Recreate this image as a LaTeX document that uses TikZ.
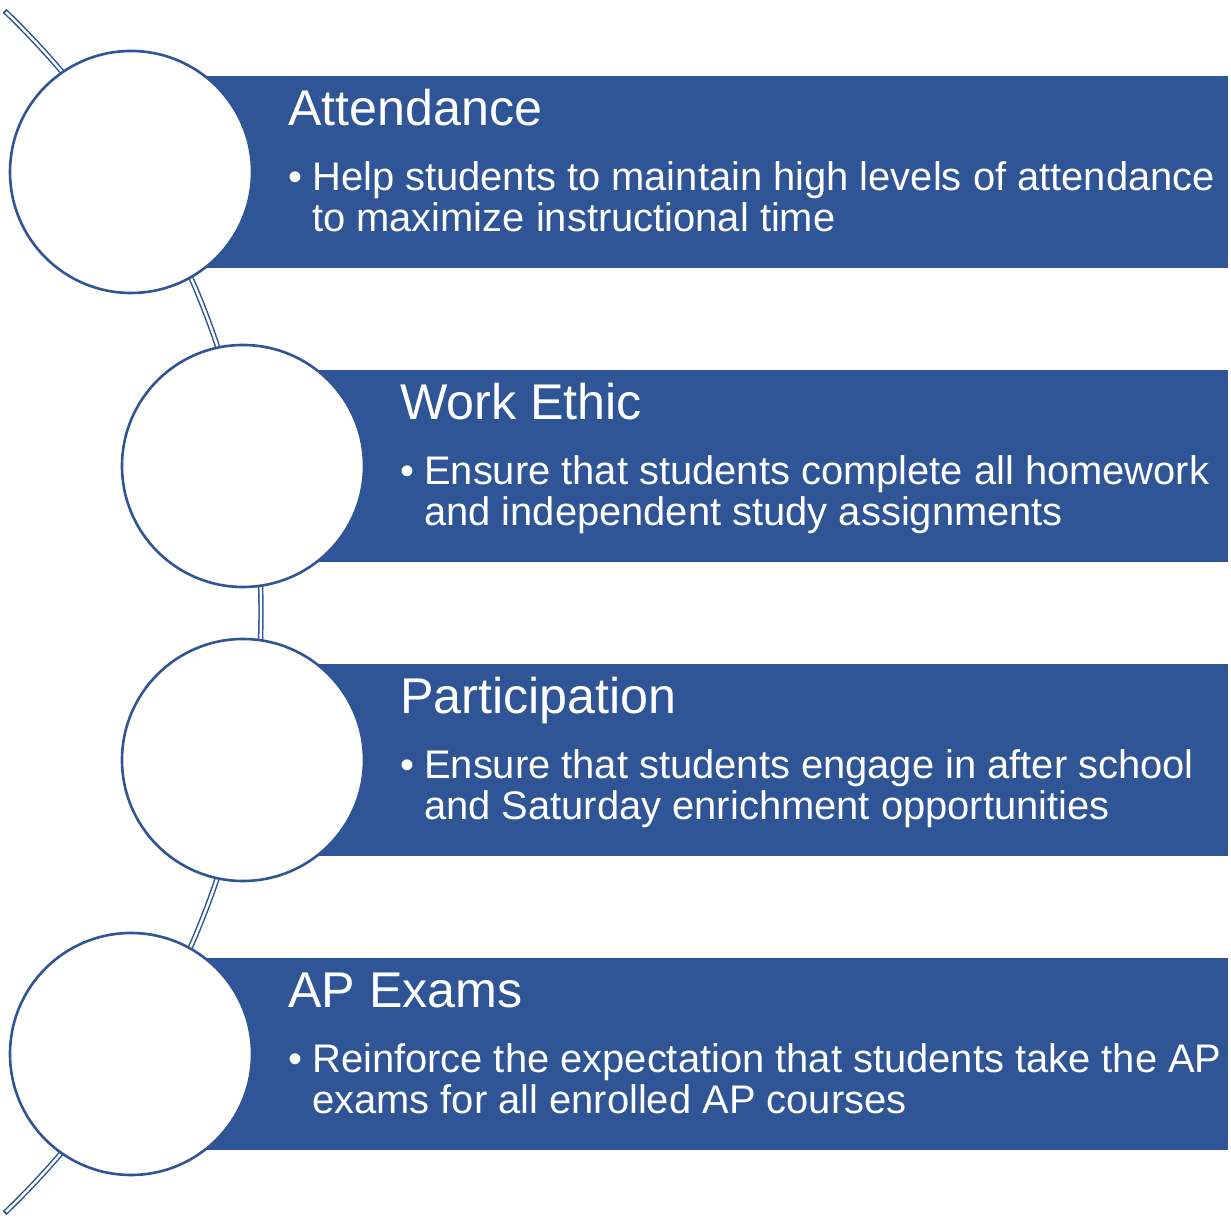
\documentclass[tikz,border=0pt]{standalone}
\usepackage{fontspec}
\setmainfont{Liberation Sans}
\definecolor{sblue}{RGB}{47,85,151}
\begin{document}
\begin{tikzpicture}[x=1pt,y=1pt,
 bar/.style={fill=sblue, draw=none},
 disc/.style={circle, fill=white, draw=sblue, line width=2.6pt, minimum size=242pt, inner sep=0pt},
 ttl/.style={anchor=base west, inner sep=0pt, text=white, font=\fontsize{50.2}{60}\selectfont},
 body/.style={anchor=base west, inner sep=0pt, text=white, font=\fontsize{39.9}{41}\selectfont}]
\useasboundingbox (0,0) rectangle (1231,1220);
% bars
\fill[bar] (131,952) rectangle (1228,1144);
\fill[bar] (243,658) rectangle (1228,850);
\fill[bar] (243,364) rectangle (1228,556);
\fill[bar] (131,70) rectangle (1228,262);
% connecting arc (double line with closed ends)
\draw[sblue, line width=5.4pt] (-572,608) ++(-46.2:833) arc[start angle=-46.2, end angle=46.2, radius=833];
\draw[white, line width=2.4pt] (-572,608) ++(-46.06:833) arc[start angle=-46.06, end angle=46.06, radius=833];
% circles
\node[disc] (c1) at (131,1048) {};
\node[disc] (c2) at (243,754) {};
\node[disc] (c3) at (243,460) {};
\node[disc] (c4) at (131,166) {};
% block 1
\node[ttl] (t1) at (288,1094) {Attendance};
\node[body] (b1) at (288,1029) {•};
\node[body] (l1a) at (312,1029) {Help students to maintain high levels of attendance};
\node[body] (l1b) at (312,988) {to maximize instructional time};
% block 2
\node[ttl] (t2) at (400,800) {Work Ethic};
\node[body] (b2) at (400,735) {•};
\node[body] (l2a) at (424,735) {Ensure that students complete all homework};
\node[body] (l2b) at (424,694) {and independent study assignments};
% block 3
\node[ttl] (t3) at (400,506) {Participation};
\node[body] (b3) at (400,441) {•};
\node[body] (l3a) at (424,441) {Ensure that students engage in after school};
\node[body] (l3b) at (424,400) {and Saturday enrichment opportunities};
% block 4
\node[ttl] (t4) at (288,212) {AP Exams};
\node[body] (b4) at (288,147) {•};
\node[body] (l4a) at (312,147) {Reinforce the expectation that students take the AP};
\node[body] (l4b) at (312,106) {exams for all enrolled AP courses};
\end{tikzpicture}
\end{document}
